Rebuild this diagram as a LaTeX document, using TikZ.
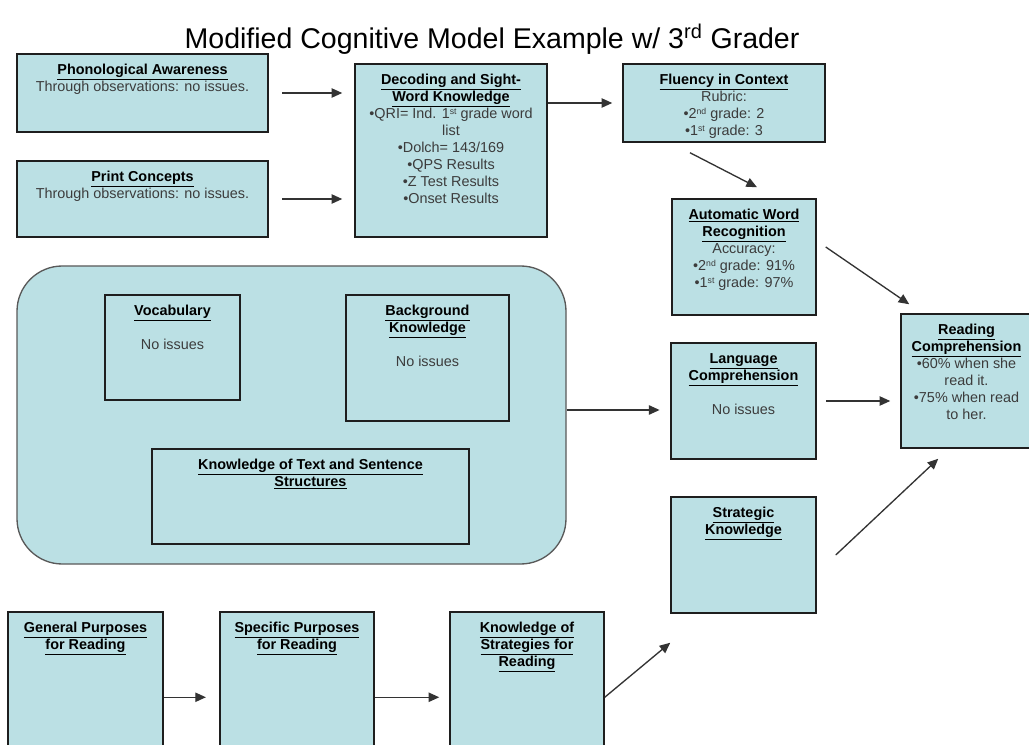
\documentclass[tikz,border=0pt]{standalone}
\usepackage{fontspec}
\setmainfont{Liberation Sans}
\usetikzlibrary{arrows.meta,fit,calc}
\definecolor{boxfill}{RGB}{187,224,228}
\definecolor{bodytext}{RGB}{60,60,60}
\definecolor{edge}{RGB}{30,30,30}
\newcommand{\hd}[1]{{\color{black}\underline{\textbf{#1}}}}
\newcommand{\sps}[1]{\raisebox{0.55ex}{\fontsize{6.5}{7}\selectfont #1}}
\begin{document}
\begin{tikzpicture}[x=0.75pt,y=-0.75pt,
  box/.style={draw=edge, line width=1.1pt, fill=boxfill, inner sep=0pt},
  inbox/.style={draw=edge, line width=1pt, inner sep=0pt},
  bigbox/.style={draw=black!65, line width=1pt, fill=boxfill, inner sep=0pt, rounded corners=34pt},
  lbl/.style={anchor=north, align=center, text=bodytext, font=\fontsize{10.8}{12.75}\selectfont, inner sep=0pt, yshift=-8pt},
  arr/.style={draw=black!80, line width=1pt, -{Triangle[length=8pt,width=7pt]}},
]
\clip (0,0) rectangle (1029,745);
\node[font=\fontsize{21.4}{25}\selectfont] (title) at (492,39) {Modified Cognitive Model Example w/ 3\textsuperscript{rd} Grader};

\node[box, fit={(17,54) (268,132)}, label={[lbl]north:{\hd{Phonological Awareness}\\Through observations: no issues.}}] (phono) {};
\node[box, fit={(17,161) (268,237)}, label={[lbl]north:{\hd{Print Concepts}\\Through observations: no issues.}}] (print) {};
\node[box, fit={(355,64) (547,237)}, label={[lbl]north:{\hd{Decoding and Sight-}\\\hd{Word Knowledge}\\•QRI= Ind. 1\sps{st} grade word\\list\\•Dolch= 143/169\\•QPS Results\\•Z Test Results\\•Onset Results}}] (dec) {};
\node[box, fit={(623,64) (825,142)}, label={[lbl]north:{\hd{Fluency in Context}\\Rubric:\\•2\sps{nd} grade: 2\\•1\sps{st} grade: 3}}] (flu) {};
\node[box, fit={(672,199) (816,315)}, label={[lbl]north:{\hd{Automatic Word}\\\hd{Recognition}\\Accuracy:\\•2\sps{nd} grade: 91\%\\•1\sps{st} grade: 97\%}}] (awr) {};
\node[box, fit={(901,314) (1032,448)}, label={[lbl]north:{\hd{Reading}\\\hd{Comprehension}\\•60\% when she\\read it.\\•75\% when read\\to her.}}] (rc) {};
\node[box, fit={(671,343) (816,459)}, label={[lbl]north:{\hd{Language}\\\hd{Comprehension}\\[12.75pt]No issues}}] (lc) {};
\node[box, fit={(671,497) (816,613)}, label={[lbl]north:{\hd{Strategic}\\\hd{Knowledge}}}] (sk) {};

\node[bigbox, fit={(17,266) (566,564)}] (big) {};
\node[inbox, fit={(105,295) (240,400)}, label={[lbl]north:{\hd{Vocabulary}\\[12.75pt]No issues}}] (voc) {};
\node[inbox, fit={(346,295) (509,421)}, label={[lbl]north:{\hd{Background}\\\hd{Knowledge}\\[12.75pt]No issues}}] (bg) {};
\node[inbox, fit={(152,449) (469,544)}, label={[lbl]north:{\hd{Knowledge of Text and Sentence}\\\hd{Structures}}}] (kt) {};

\node[box, fit={(8,612) (163,790)}, label={[lbl]north:{\hd{General Purposes}\\\hd{for Reading}}}] (gen) {};
\node[box, fit={(220,612) (374,790)}, label={[lbl]north:{\hd{Specific Purposes}\\\hd{for Reading}}}] (spec) {};
\node[box, fit={(450,612) (604,790)}, label={[lbl]north:{\hd{Knowledge of}\\\hd{Strategies for}\\\hd{Reading}}}] (kst) {};

% connectors
\draw[arr, shorten <=10pt, shorten >=9pt] (phono.east) -- (phono.east -| dec.west);
\draw[arr, shorten <=10pt, shorten >=9pt] (print.east) -- (print.east -| dec.west);
\draw[arr, shorten >=7.5pt] (flu.west -| dec.east) -- (flu.west);
\draw[arr] ($(flu.south)+(-34,10)$) -- ($(awr.north)+(13,-11)$);
\draw[arr] ($(awr.east)+(9,-10)$) -- ($(rc.north west)+(9,-9)$);
\draw[arr, shorten <=7pt, shorten >=7.5pt] (lc.east) -- (lc.east -| rc.west);
\draw[arr] ($(sk.east)+(19,0)$) -- ($(rc.south west)+(38,10)$);
\coordinate (bigout) at ($(big.east)+(0,-5)$);
\draw[arr, shorten >=8pt] (bigout) -- (bigout -| lc.west);
\coordinate (genout) at ($(gen.north east)+(0,86)$);
\draw[arr, shorten >=10pt] (genout) -- (genout -| spec.west);
\coordinate (specout) at ($(spec.north east)+(0,86)$);
\draw[arr, shorten >=7.5pt] (specout) -- (specout -| kst.west);
\coordinate (kstout) at ($(kst.north east)+(0,86)$);
\draw[arr] (kstout) -- ($(sk.south west)+(0,29)$);
\end{tikzpicture}
\end{document}
